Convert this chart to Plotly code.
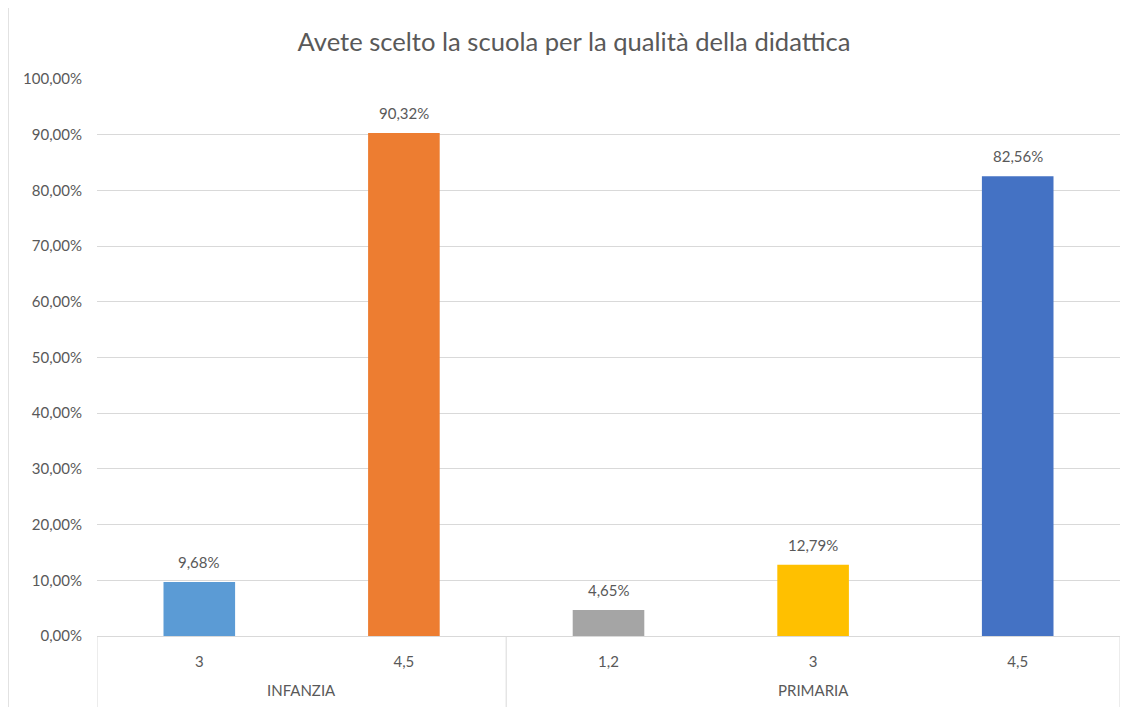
import plotly.graph_objects as go

groups = ["INFANZIA", "INFANZIA", "PRIMARIA", "PRIMARIA", "PRIMARIA"]
categories = ["3", "4,5", "1,2", "3", "4,5"]
values = [0.0968, 0.9032, 0.0465, 0.1279, 0.8256]
colors = ["#5B9BD5", "#ED7D31", "#A5A5A5", "#FFC000", "#4472C4"]
y_ticks = [0, 0.1, 0.2, 0.3, 0.4, 0.5, 0.6, 0.7, 0.8, 0.9, 1.0]

FONT = "Lato"
GREY = "#595959"
LINE = "#D9D9D9"
# page body has an 8px margin, so the figure origin sits at (8, 8) on the page
OFF = 8
PLOT_H = 557
PLOT_W = 1023

pos = list(range(len(values)))


def pct(v):
    return f"{v * 100:.2f}%".replace(".", ",")


fig = go.Figure(go.Bar(
    x=pos,
    y=values,
    marker=dict(color=colors, line=dict(width=0)),
    width=0.35,
    hovertemplate="%{customdata[0]} %{customdata[1]}: %{y:.2%}<extra></extra>",
    customdata=list(zip(groups, categories)),
))

# data labels
for p, v in zip(pos, values):
    fig.add_annotation(x=p, y=v, xref="x", yref="y", text=pct(v), showarrow=False,
                       yanchor="middle", yshift=20,
                       font=dict(family=FONT, size=15, color=GREY))

# group labels and dividers
group_names = list(dict.fromkeys(groups))
bounds = [-0.5]
for g in group_names:
    idx = [p for p, gg in zip(pos, groups) if gg == g]
    fig.add_annotation(x=sum(idx) / len(idx), y=-(690 - 636) / PLOT_H, xref="x", yref="paper",
                       text=g, showarrow=False, yanchor="middle",
                       font=dict(family=FONT, size=15, color=GREY))
    bounds.append(max(idx) + 0.5)
for b in bounds:
    fig.add_shape(type="line", xref="x", yref="paper", x0=b, x1=b,
                  y0=0, y1=-(720 - 636) / PLOT_H, line=dict(color=LINE, width=1))

fig.update_layout(
    width=1133, height=707,
    separators=",.",
    paper_bgcolor="white", plot_bgcolor="white",
    margin=dict(l=97 - OFF, r=13 + OFF, t=79 - OFF, b=71 + OFF, autoexpand=False),
    showlegend=False,
    title=dict(text="Avete scelto la scuola per la qualità della didattica",
               x=(574 - OFF) / 1133, xanchor="center", xref="container",
               y=1 - (42 - OFF) / 707, yanchor="middle", yref="container",
               font=dict(family=FONT, size=25.6, color=GREY)),
    font=dict(family=FONT, size=15, color=GREY),
)
fig.update_yaxes(range=[0, 1.0], tickvals=y_ticks, tickformat=".2%",
                 showgrid=True, gridcolor=LINE, gridwidth=1,
                 zeroline=False, showline=False, ticks="",
                 tickfont=dict(family=FONT, size=15, color=GREY), ticklabelstandoff=14)
fig.update_xaxes(range=[-0.5, len(values) - 0.5], tickvals=pos, ticktext=categories,
                 showline=True, linecolor=LINE, linewidth=1, showgrid=False, zeroline=False,
                 ticks="", ticklabelstandoff=12,
                 tickfont=dict(family=FONT, size=15, color=GREY))

# outer chart border (top and left)
fig.add_shape(type="line", xref="paper", yref="paper",
              x0=-89 / PLOT_W, x1=1.0, y0=1 + 72 / PLOT_H, y1=1 + 72 / PLOT_H,
              line=dict(color=LINE, width=1.5))
fig.add_shape(type="line", xref="paper", yref="paper",
              x0=-89 / PLOT_W, x1=-89 / PLOT_W, y0=1 + 72 / PLOT_H, y1=-0.2,
              line=dict(color=LINE, width=1.5))

fig.write_html("out.html")
